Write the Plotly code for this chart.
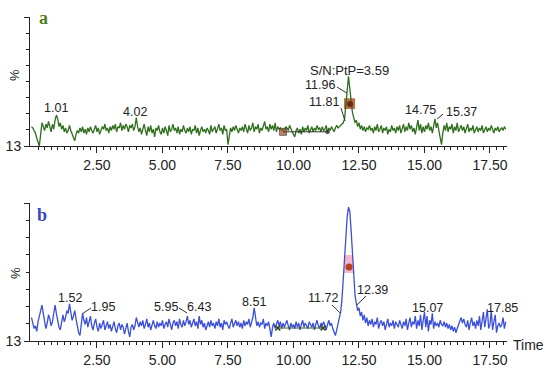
import plotly.graph_objects as go

# ---------------- data (% of full scale, 0.05 min sampling) ----------------
step = 0.05
trace_a = (
    [15,14,12,10,6,3,0,9,18,15,12,17,14,19,15,11,17,13,20,24] +
    [21,15,18,13,16,11,14,10,12,16,12,9,6,4,9,12,10,14,11,15] +
    [10,13,9,14,11,15,12,10,13,16,11,14,9,12,15,13,17,12,14,10] +
    [15,12,16,13,17,11,15,14,18,12,16,13,17,15,11,16,14,17,12,15] +
    [22,15,11,14,9,13,17,12,8,15,11,16,10,13,7,14,12,16,11,9] +
    [14,10,15,12,8,16,11,13,17,12,14,10,15,9,13,11,16,12,10,14] +
    [11,15,9,13,12,16,10,14,8,12,15,11,13,10,14,12,9,16,11,13] +
    [15,10,13,17,12,14,9,16,12,13,1,8,14,11,15,12,16,13,10,14] +
    [12,15,11,17,13,10,16,12,14,18,11,15,13,17,10,14,12,16,19,13] +
    [15,11,17,13,16,12,18,11,15,13,14,12,13,10,15,14,12,16,13,11] +
    [9,7,12,14,10,13,9,15,11,14,12,16,10,13,15,11,14,12,16,13] +
    [14,11,15,12,13,16,10,14,12,15,13,11,14,16,14,15,16,17,18,21] +
    [30,43,54,44,34,26,22,18,20,15,18,13,16,12,15,11,14,13,16,12] +
    [14,10,15,12,17,11,13,16,10,14,12,15,9,13,11,16,12,14,10,15] +
    [12,16,10,14,17,11,15,12,18,13,16,11,14,9,15,20,12,17,10,15] +
    [11,16,13,18,12,15,10,17,21,14,18,12,6,1,10,16,12,18,11,15] +
    [13,17,10,15,12,18,11,14,16,12,15,10,13,17,11,14,12,16,10,13] +
    [15,11,14,12,16,10,13,15,11,14,12,16,13,10,14,12,15,11,13,14] +
    [12,15,13]
)
trace_b = (
    [17,13,9,11,7,14,18,23,26,20,14,9,13,19,16,11,14,22,26,20] +
    [15,10,8,13,19,14,17,22,20,27,21,15,18,22,16,11,6,4,12,20] +
    [15,12,17,10,14,18,11,8,13,16,10,7,13,9,12,15,8,11,14,9] +
    [12,7,10,14,9,6,11,13,8,12,10,5,9,13,7,3,10,12,8,11] +
    [17,13,10,14,11,15,9,12,16,10,13,8,12,15,11,9,14,10,13,11] +
    [15,9,12,14,10,16,12,8,13,15,11,14,9,16,12,10,15,11,14,18] +
    [12,15,10,13,16,11,14,9,18,12,15,10,13,8,12,14,10,15,11,13] +
    [9,14,11,16,10,13,8,15,12,14,11,9,13,16,10,12,15,11,14,10] +
    [13,9,15,11,14,12,16,10,13,17,24,15,11,14,10,13,12,16,9,13] +
    [11,14,8,3,10,13,9,12,15,11,14,9,13,10,12,15,11,8,13,10] +
    [12,9,14,10,13,8,12,15,10,13,11,9,14,12,10,13,8,12,15,11] +
    [9,13,11,14,10,8,12,15,11,13,9,6,4,8,13,17,21,30,46,63] +
    [78,90,97,94,80,62,45,33,27,22,24,18,21,15,19,13,17,11,15,12] +
    [16,10,14,12,17,9,13,15,11,14,8,12,16,10,13,11,15,9,14,12] +
    [10,15,12,9,14,11,16,8,13,17,10,14,12,18,9,15,11,19,8,14] +
    [21,10,18,7,15,12,20,9,14,11,13,10,15,12,11,14,10,13,9,12] +
    [8,11,7,10,6,9,12,14,17,13,16,12,10,15,8,13,17,11,14,9] +
    [15,11,18,8,14,21,10,16,23,9,12,22,8,14,19,6,11,13,10,12] +
    [17,9,14]
)
time_a = [round(i * step, 2) for i in range(len(trace_a))]
time_b = [round(i * step, 2) for i in range(len(trace_b))]

# peak labels (text) and their anchor (time, %)
labels_a_text = ["1.01", "4.02", "S/N:PtP=3.59", "11.96", "11.81", "14.75", "15.37"]
labels_a_x = [0.94, 3.95, 12.12, 11.01, 11.16, 14.83, 16.43]
labels_a_y = [29.5, 26.4, 58.9, 47.3, 34.1, 27.9, 26.4]
labels_b_text = ["1.52", "1.95", "5.95", "6.43", "8.51", "11.72", "12.39", "15.07", "17.85", "S/N:PtP=9.35"]
labels_b_x = [1.47, 2.73, 5.13, 6.39, 8.49, 11.13, 13.0, 15.13, 17.96, 12.12]
labels_b_y = [31.2, 24.6, 24.6, 24.6, 28.3, 31.2, 37.0, 23.9, 23.9, 104.3]

# pointer lines (x0, y0, x1, y1) in time / %
pointers_a = [(11.66, 45.7, 12.04, 41.0), (11.81, 29.5, 11.97, 19.4), (15.48, 20.9, 15.71, 24.8)]
pointers_b = [(1.93, 19.6, 2.27, 23.9), (5.63, 23.9, 5.94, 20.3), (11.47, 26.1, 11.78, 20.3), (12.77, 32.6, 12.42, 26.1)]

# baseline (noise window) segments and integration marks
noise_a_x, noise_a_y = [9.6, 11.3], [11.0, 11.0]
noise_b_x, noise_b_y = [9.4, 11.13], [9.4, 9.4]
apex_a = (12.16, 32.6)
apex_b = (12.12, 53.6)
apex_box_a = (11.93, 28.7, 12.35, 37.0)
apex_box_b = (11.93, 49.3, 12.27, 62.3)

x_ticks = [2.5, 5.0, 7.5, 10.0, 12.5, 15.0, 17.5]
x_ticktext = ["2.50", "5.00", "7.50", "10.00", "12.50", "15.00", "17.50"]

# ---------------- figure ----------------
W, H = 550, 375
GREEN = "#2f6e1c"
BLUE = "#3b4fd8"
TXT = "#222222"
FONT = "Liberation Sans, Arial, sans-serif"

fig = go.Figure()
fig.add_trace(go.Scatter(x=time_a, y=trace_a, mode="lines", line=dict(color=GREEN, width=1.3),
                         xaxis="x", yaxis="y", hoverinfo="skip"))
fig.add_trace(go.Scatter(x=time_b, y=trace_b, mode="lines", line=dict(color=BLUE, width=1.3),
                         xaxis="x2", yaxis="y2", hoverinfo="skip"))
fig.add_trace(go.Scatter(x=noise_a_x, y=noise_a_y, mode="lines+markers",
                         line=dict(color="#333333", width=1),
                         marker=dict(size=[7, 4], symbol=["square", "circle"], color=["#a8502a", "#333333"]),
                         xaxis="x", yaxis="y", hoverinfo="skip"))
fig.add_trace(go.Scatter(x=noise_b_x, y=noise_b_y, mode="lines+markers",
                         line=dict(color="#3d5a2a", width=1),
                         marker=dict(size=5, symbol="x-thin", line=dict(color="#2d3d1a", width=1.5)),
                         xaxis="x2", yaxis="y2", hoverinfo="skip"))

shapes = []
bx0, by0, bx1, by1 = apex_box_a
shapes.append(dict(type="rect", xref="x", yref="y", x0=bx0, x1=bx1, y0=by0, y1=by1,
                   fillcolor="#b4532a", opacity=0.85, line=dict(width=0), layer="below"))
bx0, by0, bx1, by1 = apex_box_b
shapes.append(dict(type="rect", xref="x2", yref="y2", x0=bx0, x1=bx1, y0=by0, y1=by1,
                   fillcolor="#f2a6bc", opacity=0.8, line=dict(width=0), layer="below"))
for (x0, y0, x1, y1) in pointers_a:
    shapes.append(dict(type="line", xref="x", yref="y", x0=x0, y0=y0, x1=x1, y1=y1,
                       line=dict(color="#333333", width=1)))
for (x0, y0, x1, y1) in pointers_b:
    shapes.append(dict(type="line", xref="x2", yref="y2", x0=x0, y0=y0, x1=x1, y1=y1,
                       line=dict(color="#333333", width=1)))

fig.add_trace(go.Scatter(x=[apex_a[0]], y=[apex_a[1]], mode="markers",
                         marker=dict(size=6, color="#6e2a10"), xaxis="x", yaxis="y", hoverinfo="skip"))
fig.add_trace(go.Scatter(x=[apex_b[0]], y=[apex_b[1]], mode="markers",
                         marker=dict(size=7, color="#b8401a"), xaxis="x2", yaxis="y2", hoverinfo="skip"))

ann = []
for t, x, y in zip(labels_a_text, labels_a_x, labels_a_y):
    ann.append(dict(text=t, x=x, y=y, xref="x", yref="y", showarrow=False,
                    xanchor="center", yanchor="middle",
                    font=dict(family=FONT, size=12.5 if "S/N" not in t else 13, color=TXT)))
for t, x, y in zip(labels_b_text, labels_b_x, labels_b_y):
    ann.append(dict(text=t, x=x, y=y, xref="x2", yref="y2", showarrow=False,
                    xanchor="center", yanchor="middle",
                    font=dict(family=FONT, size=12.5 if "S/N" not in t else 13, color=TXT)))
# panel letters, % labels, Time
ann.append(dict(text="<b>a</b>", x=43 / W, y=1 - 18 / H, xref="paper", yref="paper", showarrow=False,
                xanchor="center", yanchor="middle",
                font=dict(family="Liberation Serif, Times New Roman, serif", size=18, color="#4f7d1e")))
ann.append(dict(text="<b>b</b>", x=42 / W, y=1 - 215 / H, xref="paper", yref="paper", showarrow=False,
                xanchor="center", yanchor="middle",
                font=dict(family="Liberation Serif, Times New Roman, serif", size=18, color="#3a44c8")))
for yp in (75, 273):
    ann.append(dict(text="%", x=15 / W, y=1 - yp / H, xref="paper", yref="paper", showarrow=False,
                    xanchor="center", yanchor="middle",
                    textangle=-90, font=dict(family=FONT, size=13, color=TXT)))
ann.append(dict(text="Time", x=528 / W, y=1 - 345 / H, xref="paper", yref="paper", showarrow=False,
                xanchor="center", yanchor="middle",
                font=dict(family=FONT, size=14, color=TXT)))

xdom = [30 / W, 507 / W]
xr = [-0.057, 18.15]
minor_x = [round(0.25 * k, 2) for k in range(1, 73) if (0.25 * k) % 2.5 != 0]


def xaxis(anchor):
    return dict(domain=xdom, range=xr, anchor=anchor, showline=True, linecolor=TXT, linewidth=1,
                ticks="outside", ticklen=6, tickcolor=TXT, tickvals=x_ticks, ticktext=x_ticktext,
                tickfont=dict(family=FONT, size=14, color=TXT), showgrid=False, zeroline=False,
                automargin=False,
                minor=dict(ticks="outside", ticklen=3, tickcolor=TXT, tickvals=minor_x))


def yaxis(anchor, dom):
    return dict(domain=dom, range=[0, 100], anchor=anchor, showline=True, linecolor=TXT, linewidth=1,
                ticks="outside", ticklen=5, tickcolor=TXT, tickvals=[0, 100], ticktext=["13", ""],
                tickfont=dict(family=FONT, size=14, color=TXT), showgrid=False, zeroline=False,
                automargin=False,
                minor=dict(ticks="outside", ticklen=3, tickcolor=TXT,
                           tickvals=[12.5, 25, 37.5, 50, 62.5, 75, 87.5]))


fig.update_layout(
    width=W, height=H, margin=dict(l=0, r=0, t=0, b=0, pad=0),
    paper_bgcolor="white", plot_bgcolor="white", showlegend=False,
    xaxis=xaxis("y"), yaxis=yaxis("x", [1 - 146 / H, 1 - 17 / H]),
    xaxis2=xaxis("y2"), yaxis2=yaxis("x2", [1 - 341 / H, 1 - 203 / H]),
    shapes=shapes, annotations=ann,
)
fig.write_html("out.html", config={"displayModeBar": False},
               post_script="document.body.style.margin='0px';document.body.style.padding='0px';")
